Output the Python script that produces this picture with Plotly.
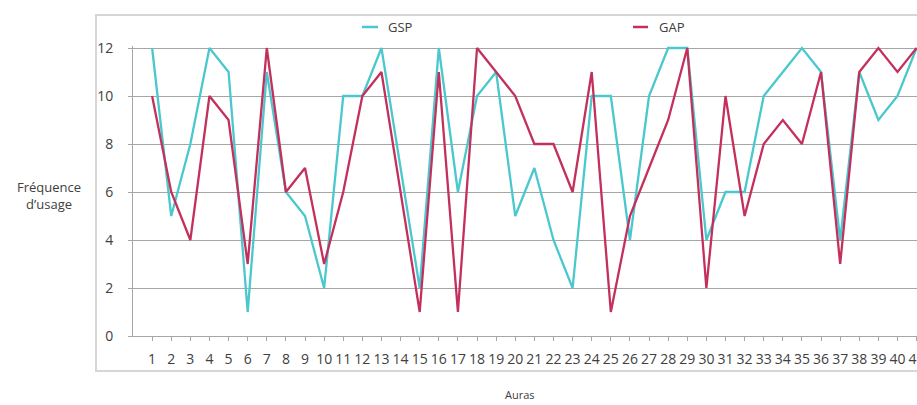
import plotly.graph_objects as go

# Usage frequency per aura for the two groups
auras = list(range(1, 42))
gsp = [12, 5, 8, 12, 11, 1, 11, 6, 5, 2,
       10, 10, 12, 7, 2, 12, 6, 10, 11, 5,
       7, 4, 2, 10, 10, 4, 10, 12, 12, 4,
       6, 6, 10, 11, 12, 11, 4, 11, 9, 10,
       12]
gap = [10, 6, 4, 10, 9, 3, 12, 6, 7, 3,
       6, 10, 11, 6, 1, 11, 1, 12, 11, 10,
       8, 8, 6, 11, 1, 5, 7, 9, 12, 2,
       10, 5, 8, 9, 8, 11, 3, 11, 12, 11,
       12]
y_ticks = [0, 2, 4, 6, 8, 10, 12]

W, H = 917, 405
ML, MR, MT, MB = 133, 0, 46, 69
PW, PH = W - ML - MR, H - MT - MB
# 12 sits on the top gridline; a little headroom keeps the peaks unclipped
Y_MAX = 12 + 2 / 24.0


def px(x):
    return (x - ML) / PW


def py(y):
    return (H - MB - y) / PH


C_GSP = "#4ac8ce"
C_GAP = "#c3305c"
TXT = "#404040"
FONT = "Open Sans"

fig = go.Figure()
fig.add_trace(go.Scatter(x=auras, y=gsp, name="GSP", mode="lines",
                         line=dict(color=C_GSP, width=2.3), showlegend=False))
fig.add_trace(go.Scatter(x=auras, y=gap, name="GAP", mode="lines",
                         line=dict(color=C_GAP, width=2.3), showlegend=False))

shapes = [
    # outer chart frame
    dict(type="rect", xref="paper", yref="paper",
         x0=px(96), x1=px(925), y0=py(371), y1=py(15),
         line=dict(color="#d6d6d6", width=2), fillcolor="rgba(0,0,0,0)", layer="below"),
    # legend keys
    dict(type="line", xref="paper", yref="paper",
         x0=px(362), x1=px(378), y0=py(27), y1=py(27),
         line=dict(color=C_GSP, width=2.5)),
    dict(type="line", xref="paper", yref="paper",
         x0=px(633), x1=px(648), y0=py(27), y1=py(27),
         line=dict(color=C_GAP, width=2.5)),
]

annotations = [
    dict(text="GSP", xref="paper", yref="paper", x=px(386), y=py(27),
         xanchor="left", yanchor="middle", showarrow=False,
         font=dict(family=FONT, size=13, color=TXT)),
    dict(text="GAP", xref="paper", yref="paper", x=px(657), y=py(27),
         xanchor="left", yanchor="middle", showarrow=False,
         font=dict(family=FONT, size=13, color=TXT)),
    dict(text="Fréquence<br>d’usage", xref="paper", yref="paper",
         x=px(49), y=py(196), xanchor="center", yanchor="middle",
         showarrow=False, align="center",
         font=dict(family=FONT, size=13, color=TXT)),
    dict(text="Auras", xref="paper", yref="paper",
         x=px(520), y=py(394), xanchor="center", yanchor="middle",
         showarrow=False, font=dict(family=FONT, size=11, color=TXT)),
]

fig.update_layout(
    width=W, height=H,
    margin=dict(l=ML, r=MR, t=MT, b=MB, pad=0, autoexpand=False),
    paper_bgcolor="white", plot_bgcolor="white",
    font=dict(family=FONT, color=TXT),
    shapes=shapes, annotations=annotations,
    xaxis=dict(range=[0, 41.02], tickmode="array", tickvals=auras,
               ticktext=[str(a) for a in auras], showgrid=False,
               showline=True, linecolor="#a6a6a6", linewidth=1,
               ticks="outside", ticklen=4, tickcolor="#a6a6a6",
               tickfont=dict(family=FONT, size=14, color=TXT),
               ticklabelstandoff=6, ticklabeloverflow="allow",
               automargin=False, zeroline=False),
    yaxis=dict(range=[0, Y_MAX], tickmode="array", tickvals=y_ticks,
               showgrid=True, gridcolor="#a6a6a6", gridwidth=1,
               showline=True, linecolor="#a6a6a6", linewidth=1,
               ticks="outside", ticklen=4, tickcolor="#a6a6a6",
               tickfont=dict(family=FONT, size=14, color=TXT),
               ticklabelstandoff=12, automargin=False, zeroline=False),
)

fig.write_html("out.html")
